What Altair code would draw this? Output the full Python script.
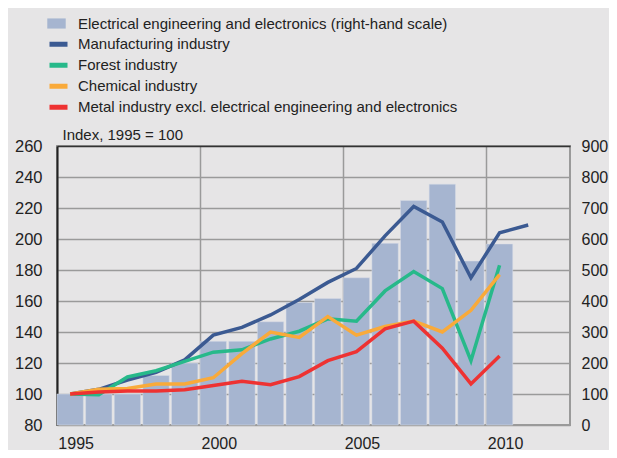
import altair as alt
import pandas as pd

years = list(range(1995, 2012))
all_years = list(range(1995, 2013))

manufacturing = [100, 103, 109, 114, 122, 138, 143, 151, 161, 172, 181, 202, 221, 211, 175, 204, 209]
forest = [100, 99.5, 111, 115, 121, 127, 128.5, 135.5, 140.5, 148.5, 147, 166.5, 179, 168, 121.5, 183]
chemical = [100, 103, 103.5, 106.5, 106.5, 110.5, 126, 140, 136.5, 150, 138, 143.5, 147, 140, 154, 177]
metal = [100, 101.3, 102, 102, 102.7, 105.5, 108.2, 106, 111.2, 121.5, 127.3, 142, 147, 129.5, 106.5, 124.5]
electrical = [100, 100, 100, 160, 200, 270, 270, 333, 395, 408, 475, 586, 724, 777, 529, 584]

bar_name = "Electrical engineering and electronics (right-hand scale)"
line_names = ["Manufacturing industry", "Forest industry", "Chemical industry",
              "Metal industry excl. electrical engineering and electronics"]
line_colors = ["#3b5a92", "#27b98a", "#f9aa3a", "#ee3232"]
bar_color = "#a6b5d0"

bars_df = pd.DataFrame({"year": years[:len(electrical)], "value": electrical, "series": bar_name})
rows = []
for name, vals in zip(line_names, [manufacturing, forest, chemical, metal]):
    for y, v in zip(years, vals):
        rows.append({"year": y, "value": v, "series": name})
lines_df = pd.DataFrame(rows)

FONT = "Liberation Sans"
TXT = "#222222"

x_enc = alt.X("year:O", scale=alt.Scale(domain=all_years, paddingInner=0.08, paddingOuter=0),
              axis=alt.Axis(values=[1995, 2000, 2005, 2010], bandPosition=0, labelOffset=6,
                            labelAngle=0, ticks=False, domain=False, grid=True,
                            gridColor="#9a9a9a", gridWidth=1.5, labelPadding=10,
                            labelFontSize=16, labelColor=TXT, labelFont=FONT, title=None))

bars = alt.Chart(bars_df).mark_bar(stroke="#d8dce6", strokeWidth=0.5).encode(
    x=x_enc,
    y=alt.Y("value:Q", scale=alt.Scale(domain=[0, 900], nice=False, zero=True),
            axis=alt.Axis(orient="right", values=list(range(0, 1000, 100)), grid=False,
                          ticks=False, domain=False, labelPadding=11, labelFontSize=16,
                          labelColor=TXT, labelFont=FONT, title=None)),
    fill=alt.Fill("series:N", scale=alt.Scale(domain=[bar_name], range=[bar_color]),
                  legend=alt.Legend(orient="none", legendX=-10, legendY=-132, title=None,
                                    symbolType="M-1,-0.55H1V0.55H-1Z", symbolSize=340,
                                    symbolStrokeWidth=0, labelFontSize=15, labelFont=FONT,
                                    labelColor=TXT, labelOffset=12, padding=0, labelLimit=600)),
)

lines = alt.Chart(lines_df).mark_line(strokeWidth=3.5).encode(
    x=alt.X("year:O", scale=alt.Scale(domain=all_years)),
    y=alt.Y("value:Q", scale=alt.Scale(domain=[80, 260], nice=False, zero=False),
            axis=alt.Axis(orient="left", values=list(range(80, 261, 20)), grid=True,
                          gridColor={"condition": {"test": "datum.value === 260", "value": "#333333"},
                                     "value": "#9a9a9a"},
                          gridWidth=1.5, ticks=False, domain=True, domainColor="#222222",
                          domainWidth=2, labelPadding=15, labelFontSize=16.5, labelColor=TXT,
                          labelFont=FONT, title="Index, 1995 = 100", titleAngle=0,
                          titleAlign="left", titleBaseline="alphabetic", titleX=5, titleY=-7,
                          titleFontSize=15, titleFontWeight="normal", titleFont=FONT,
                          titleColor=TXT)),
    stroke=alt.Stroke("series:N", scale=alt.Scale(domain=line_names, range=line_colors),
                      sort=line_names,
                      legend=alt.Legend(orient="none", legendX=-10, legendY=-112, title=None,
                                        symbolType="stroke", symbolSize=324, symbolStrokeWidth=5,
                                        labelFontSize=15, labelFont=FONT, labelColor=TXT,
                                        labelOffset=8, rowPadding=0, clipHeight=20.5,
                                        padding=0, labelLimit=600)),
)

chart = alt.layer(bars, lines).resolve_scale(y="independent", fill="independent", stroke="independent").properties(
    width=513, height=279,
    autosize=alt.AutoSizeParams(type="none"),
    padding={"left": 49, "top": 138, "right": 39, "bottom": 25},
    background="#e6e5e6",
).configure_view(stroke="#9a9a9a", strokeWidth=2)

chart.save("out.html", embed_options={"renderer": "svg", "actions": False})
